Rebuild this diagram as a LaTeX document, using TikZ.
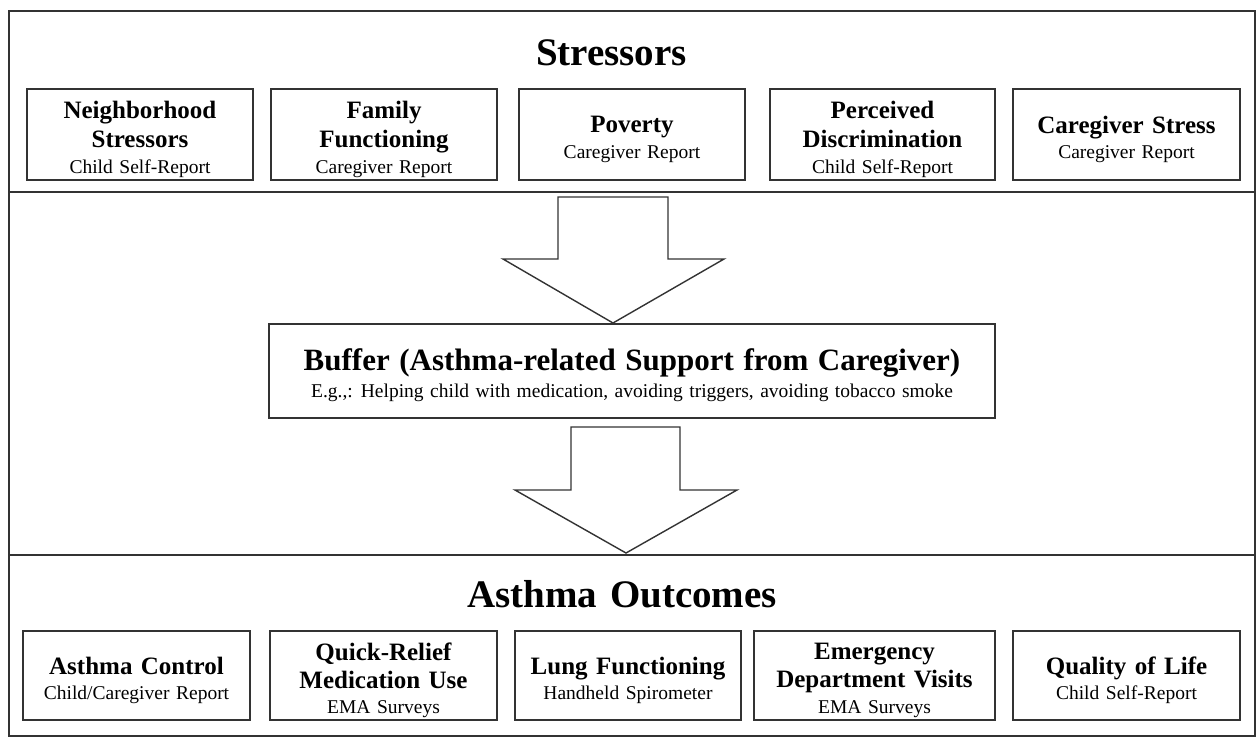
\documentclass[tikz,border=0pt]{standalone}
\usepackage{fontspec}
\setmainfont{Liberation Serif}[WordSpace=1.35]
\definecolor{linec}{HTML}{333333}
\newcommand{\hd}[1]{{\fontsize{25}{29}\selectfont\bfseries #1}}
\newcommand{\subtxt}[1]{{\fontsize{19.5}{25.5}\selectfont #1}}
\begin{document}
\begin{tikzpicture}[x=1pt,y=-1pt,
  frameline/.style={draw=linec, line width=2pt},
  itembox/.style={draw=linec, line width=1.6pt, inner sep=0pt, minimum width=#1},
  boxtext/.style={align=center, inner sep=0pt, font=\fontsize{19.5}{25.5}\selectfont},
  blockarrow/.style={draw=linec, line width=1.4pt, fill=white, line join=miter},
  sectitle/.style={anchor=base, inner sep=0pt, font=\fontsize{39}{46}\selectfont\bfseries}]
\useasboundingbox (0,0) rectangle (1257,737);
% frame and section lines
\coordinate (ftl) at (9,11);
\coordinate (fbr) at (1255,736);
\coordinate (l1a) at (9,192);
\coordinate (l1b) at (1255,192);
\coordinate (l2a) at (9,555);
\coordinate (l2b) at (1255,555);
\draw[frameline] (ftl) rectangle (fbr);
\draw[frameline] (l1a) -- (l1b);
\draw[frameline] (l2a) -- (l2b);
% titles
\node[sectitle] (stitle) at (611.5,65) {Stressors};
\node[sectitle] (otitle) at (622,607) {Asthma Outcomes};
% stressor boxes
\begin{scope}[every node/.append style={minimum height=91pt}]
\node[itembox=226pt] (s1) at (140,134.5) {};
\node[itembox=226pt] (s2) at (384,134.5) {};
\node[itembox=226pt] (s3) at (632,134.5) {};
\node[itembox=225pt] (s4) at (882.5,134.5) {};
\node[itembox=227pt] (s5) at (1126.5,134.5) {};
\end{scope}
\node[boxtext] (s1t) at ([yshift=-5pt]s1.center) {\hd{Neighborhood}\\[3.5pt]\hd{Stressors}\\\subtxt{Child Self-Report}};
\node[boxtext] (s2t) at ([yshift=-5pt]s2.center) {\hd{Family}\\[3.5pt]\hd{Functioning}\\\subtxt{Caregiver Report}};
\node[boxtext] (s3t) at ([yshift=-5pt]s3.center) {\hd{Poverty}\\\subtxt{Caregiver Report}};
\node[boxtext] (s4t) at ([yshift=-5pt]s4.center) {\hd{Perceived}\\[3.5pt]\hd{Discrimination}\\\subtxt{Child Self-Report}};
\node[boxtext] (s5t) at ([yshift=-5pt]s5.center) {\hd{Caregiver Stress}\\\subtxt{Caregiver Report}};
% outcome boxes
\begin{scope}[every node/.append style={minimum height=89pt}]
\node[itembox=227pt] (o1) at (136.5,675.5) {};
\node[itembox=227pt] (o2) at (383.5,675.5) {};
\node[itembox=226pt] (o3) at (628,675.5) {};
\node[itembox=241pt] (o4) at (874.5,675.5) {};
\node[itembox=227pt] (o5) at (1126.5,675.5) {};
\end{scope}
\node[boxtext] (o1t) at ([yshift=-5pt]o1.center) {\hd{Asthma Control}\\\subtxt{Child/Caregiver Report}};
\node[boxtext] (o2t) at ([yshift=-5pt]o2.center) {\hd{Quick-Relief}\\[2.5pt]\hd{Medication Use}\\\subtxt{EMA Surveys}};
\node[boxtext] (o3t) at ([yshift=-5pt]o3.center) {\hd{Lung Functioning}\\\subtxt{Handheld Spirometer}};
\node[boxtext] (o4t) at ([yshift=-5pt]o4.center) {\hd{Emergency}\\[2.5pt]\hd{Department Visits}\\\subtxt{EMA Surveys}};
\node[boxtext] (o5t) at ([yshift=-5pt]o5.center) {\hd{Quality of Life}\\\subtxt{Child Self-Report}};
% buffer box
\node[itembox=726pt, minimum height=94pt] (buf) at (632,371) {};
\node[boxtext] (buft) at ([yshift=-4pt]buf.center)
  {{\fontsize{31}{36}\selectfont\bfseries\spaceskip=0.31em Buffer (Asthma-related Support from Caregiver)}\\[1.5pt]%
   {\spaceskip=0.33em E.g.,: Helping child with medication, avoiding triggers, avoiding tobacco smoke}};
% block arrows
\draw[blockarrow] (558,197) -- (668,197) -- (668,259) -- (724,259) -- (613,323) -- (503,259) -- (558,259) -- cycle;
\draw[blockarrow] (571,427) -- (680,427) -- (680,490) -- (737,490) -- (626,553) -- (515,490) -- (571,490) -- cycle;
\end{tikzpicture}
\end{document}
